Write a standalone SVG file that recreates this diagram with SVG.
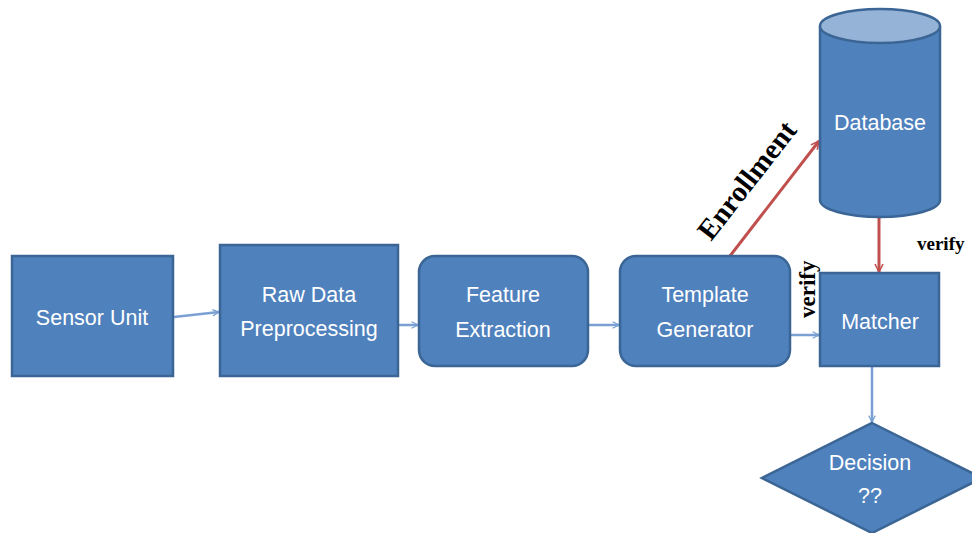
<svg xmlns="http://www.w3.org/2000/svg" width="972" height="533" viewBox="0 0 972 533">
<defs>
<marker id="ab" viewBox="0 0 10 10" refX="9" refY="5" markerWidth="8" markerHeight="8" markerUnits="userSpaceOnUse" orient="auto">
<path d="M1,1 L9,5 L1,9" fill="none" stroke="#7aa0d4" stroke-width="1.6"/>
</marker>
<marker id="ar" viewBox="0 0 10 10" refX="9" refY="5" markerWidth="10" markerHeight="10" markerUnits="userSpaceOnUse" orient="auto">
<path d="M1,1 L9,5 L1,9" fill="none" stroke="#c0504d" stroke-width="1.6"/>
</marker>
</defs>
<style>
.n{fill:#4f81bd;stroke:#3a6595;stroke-width:2.5}
.t{fill:#fff;font-family:"Liberation Sans",Arial,sans-serif;font-size:21.5px;text-anchor:middle}
.cb{stroke:#7aa0d4;stroke-width:2.5;fill:none;marker-end:url(#ab)}
.cr{stroke:#c0504d;stroke-width:3;fill:none;marker-end:url(#ar)}
.l{fill:#000;font-family:"Liberation Serif","Times New Roman",serif;font-weight:bold}
</style>
<rect width="972" height="533" fill="#fff"/>
<g id="connectors">
<line class="cb" x1="174" y1="317" x2="219" y2="312"/>
<line class="cb" x1="399" y1="325" x2="418" y2="325"/>
<line class="cb" x1="589" y1="325" x2="619" y2="325"/>
<line class="cb" x1="791" y1="335" x2="819" y2="335"/>
<line class="cb" x1="872" y1="367" x2="872" y2="422"/>
<line class="cr" x1="879" y1="218" x2="879" y2="272"/>
<line class="cr" x1="730" y1="256" x2="819" y2="141"/>
<text class="l" font-size="29" transform="translate(711,242) rotate(-52)">Enrollment</text>
<text class="l" font-size="23" transform="translate(815,318) rotate(-90)">verify</text>
<text class="l" font-size="19" x="917" y="250">verify</text>
</g>
<g id="sensor">
<rect class="n" x="12" y="256" width="161" height="120"/>
<text class="t" x="92" y="325" font-size="22">Sensor Unit</text>
</g>
<g id="raw">
<rect class="n" x="220" y="245" width="178" height="131"/>
<text class="t" x="309" y="302">Raw Data</text>
<text class="t" x="309" y="336">Preprocessing</text>
</g>
<g id="feature">
<rect class="n" x="419" y="256" width="169" height="110" rx="16"/>
<text class="t" x="503" y="302">Feature</text>
<text class="t" x="503" y="337">Extraction</text>
</g>
<g id="template">
<rect class="n" x="620" y="256" width="170" height="110" rx="16"/>
<text class="t" x="705" y="302">Template</text>
<text class="t" x="705" y="337">Generator</text>
</g>
<g id="database">
<path class="n" d="M820,26 V200 A60,17 0 0 0 940,200 V26"/>
<ellipse cx="880" cy="26" rx="60" ry="17" fill="#95b3d7" stroke="#3a6595" stroke-width="2.5"/>
<text class="t" x="880" y="130" font-size="22">Database</text>
</g>
<g id="matcher">
<rect class="n" x="820" y="273" width="119" height="93"/>
<text class="t" x="880" y="329" font-size="23">Matcher</text>
</g>
<g id="decision">
<polygon class="n" points="872,423 982,478 872,533 762,478"/>
<text class="t" x="870" y="470" font-size="22">Decision</text>
<text class="t" x="870" y="503" font-size="22">??</text>
</g>
</svg>
